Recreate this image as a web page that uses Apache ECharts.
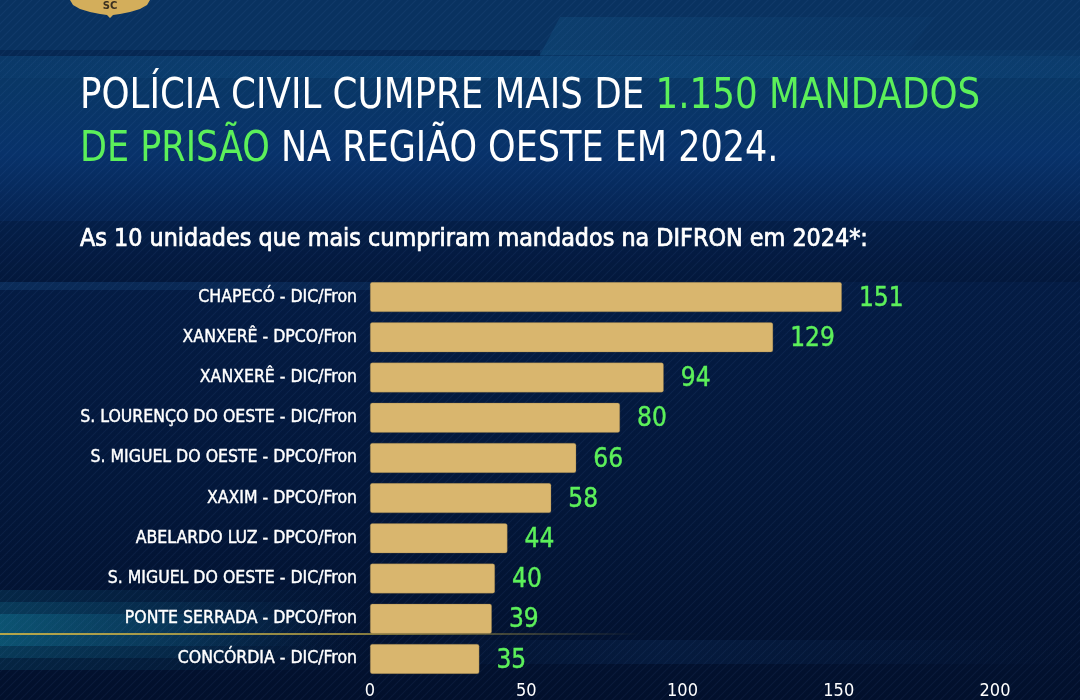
<!DOCTYPE html>
<html><head><meta charset="utf-8">
<script src="https://cdn.jsdelivr.net/npm/echarts@6/dist/echarts.min.js"></script>
<style>html,body{margin:0;padding:0;background:#041a3c}#c{width:1080px;height:700px}</style>
</head><body><div id="c"></div>
<script>
const categories = ['CHAPECÓ - DIC/Fron','XANXERÊ - DPCO/Fron','XANXERÊ - DIC/Fron','S. LOURENÇO DO OESTE - DIC/Fron','S. MIGUEL DO OESTE - DPCO/Fron','XAXIM - DPCO/Fron','ABELARDO LUZ - DPCO/Fron','S. MIGUEL DO OESTE - DIC/Fron','PONTE SERRADA - DPCO/Fron','CONCÓRDIA - DIC/Fron'];
const values = [151,129,94,80,66,58,44,40,39,35];
const axisTicks = [0,50,100,150,200];
const titleWhite1 = 'POLÍCIA CIVIL CUMPRE MAIS DE ';
const titleGreen1 = '1.150 MANDADOS';
const titleGreen2 = 'DE PRISÃO';
const titleWhite2 = ' NA REGIÃO OESTE EM 2024.';
const subtitle = 'As 10 unidades que mais cumpriram mandados na DIFRON em 2024*:';

const pc = document.createElement('canvas');
pc.width = 8; pc.height = 8;
const px = pc.getContext('2d');
px.strokeStyle = 'rgba(110,160,230,0.07)';
px.lineWidth = 1.2;
px.beginPath();
px.moveTo(0,8); px.lineTo(8,0);
px.moveTo(-2,2); px.lineTo(2,-2);
px.moveTo(6,10); px.lineTo(10,6);
px.stroke();

const chart = echarts.init(document.getElementById('c'), null, {renderer:'canvas'});
const TF = '"Liberation Sans Narrow", "DejaVu Sans Condensed", sans-serif';
const LF = '"DejaVu Sans Condensed", "Noto Sans", sans-serif';
const G = echarts.graphic.LinearGradient;
const GREEN = '#5cf05a';
function glow(y, h, a, w) {
  return {type:'rect', z:-9, silent:true, shape:{x:0,y:y,width:w,height:h},
    style:{fill:new G(0,0,1,0,[{offset:0,color:'rgba(20,140,170,'+a+')'},{offset:0.5,color:'rgba(20,120,160,'+(a*0.6)+')'},{offset:1,color:'rgba(20,100,150,0)'}])}};
}
chart.setOption({
  backgroundColor: '#041a3c',
  animation: false,
  graphic: [
    {type:'rect', z:-10, silent:true, shape:{x:0,y:0,width:1080,height:700},
      style:{fill:new G(0,0,0,1,[
        {offset:0,color:'#0a3462'},{offset:0.12,color:'#093766'},{offset:0.22,color:'#08326a'},{offset:0.3,color:'#062656'},
        {offset:0.4,color:'#041c44'},{offset:0.7,color:'#03173a'},{offset:1,color:'#02102c'}])}},
    {type:'rect', z:-9, silent:true, shape:{x:0,y:0,width:1080,height:50}, style:{fill:'#093260'}},
    {type:'rect', z:-9, silent:true, shape:{x:0,y:50,width:540,height:6}, style:{fill:'#062853'}},
    {type:'polygon', z:-9, silent:true, shape:{points:[[560,17],[935,17],[905,55],[540,55]]},
      style:{fill:new G(0,0,1,0,[{offset:0,color:'rgba(30,120,170,0.18)'},{offset:1,color:'rgba(30,110,170,0.04)'}])}},
    {type:'rect', z:-9, silent:true, shape:{x:0,y:56,width:1080,height:22},
      style:{fill:new G(0,0,1,0,[{offset:0,color:'rgba(30,110,170,0.05)'},{offset:0.5,color:'rgba(30,120,180,0.2)'},{offset:1,color:'rgba(30,110,170,0.1)'}])}},
    {type:'rect', z:-9, silent:true, shape:{x:0,y:221,width:1080,height:61}, style:{fill:'rgba(0,8,28,0.2)'}},
    {type:'rect', z:-9, silent:true, shape:{x:0,y:282,width:900,height:8}, style:{fill:new G(0,0,1,0,[{offset:0,color:'rgba(30,90,150,0.25)'},{offset:1,color:'rgba(30,90,150,0)'}])}},
    glow(590, 80, 0.16, 380), glow(602, 56, 0.2, 360), glow(614, 32, 0.3, 320),
    {type:'rect', z:-9, silent:true, shape:{x:380,y:640,width:700,height:24},
      style:{fill:new G(0,0,1,0,[{offset:0,color:'rgba(20,70,130,0)'},{offset:0.4,color:'rgba(20,70,130,0.18)'},{offset:1,color:'rgba(20,70,130,0)'}])}},
    {type:'rect', z:-8, silent:true, shape:{x:0,y:0,width:1080,height:700}, style:{fill:{image:pc, repeat:'repeat'}}},
    {type:'rect', z:-7, silent:true, shape:{x:0,y:633,width:640,height:2},
      style:{fill:new G(0,0,1,0,[{offset:0,color:'rgba(200,175,70,0.9)'},{offset:0.55,color:'rgba(200,175,70,0.7)'},{offset:1,color:'rgba(200,175,70,0)'}])}},
    {type:'polygon', z:-5, silent:true, shape:{points:[[70,0],[150,0],[147,5],[140,9],[130,12],[120,14],[113,15],[110,18],[107,15],[100,14],[90,12],[80,9],[73,5]]},
      style:{fill:'#d3ae5b'}},
    {type:'text', z:-4, silent:true, x:110, y:6, style:{text:'SC', fill:'#3a3020', font:'bold 10px "DejaVu Sans"', align:'center', verticalAlign:'middle'}},
    {type:'text', x:80, y:76, scaleX:0.944, style:{rich:{w:{fill:'#ffffff',font:'400 42px '+TF},g:{fill:GREEN,font:'400 42px '+TF}}, text:'{w|'+titleWhite1+'}{g|'+titleGreen1+'}'}},
    {type:'text', x:80, y:129, scaleX:0.927, style:{rich:{w:{fill:'#ffffff',font:'400 42px '+TF},g:{fill:GREEN,font:'400 42px '+TF}}, text:'{g|'+titleGreen2+'}{w|'+titleWhite2+'}'}},
    {type:'text', x:80, y:228, scaleX:1.034, style:{text:subtitle, fill:'#ffffff', font:'400 24px '+TF, stroke:'#ffffff', lineWidth:0.7}}
  ],
  grid: {left:370, right:85, top:277, height:405},
  xAxis: {type:'value', min:axisTicks[0], max:axisTicks[axisTicks.length-1], interval:axisTicks[1]-axisTicks[0],
    splitLine:{show:false}, axisLine:{show:false}, axisTick:{show:false},
    axisLabel:{color:'#ffffff', fontSize:18, fontFamily:TF, margin:3}},
  yAxis: {type:'category', data:categories, inverse:true,
    axisLine:{show:false}, axisTick:{show:false},
    axisLabel:{color:'#ffffff', fontSize:17.5, fontFamily:LF, margin:13, textBorderColor:'#ffffff', textBorderWidth:0.4}},
  series: [{type:'bar', data:values, barWidth:30,
    itemStyle:{color:'#d9b66e', borderRadius:2, borderColor:'rgba(120,100,60,0.6)', borderWidth:0.5},
    label:{show:true, position:'right', distance:17, color:GREEN, fontSize:26, fontFamily:TF, offset:[0,2], textBorderColor:GREEN, textBorderWidth:0.4}}]
});
</script></body></html>
